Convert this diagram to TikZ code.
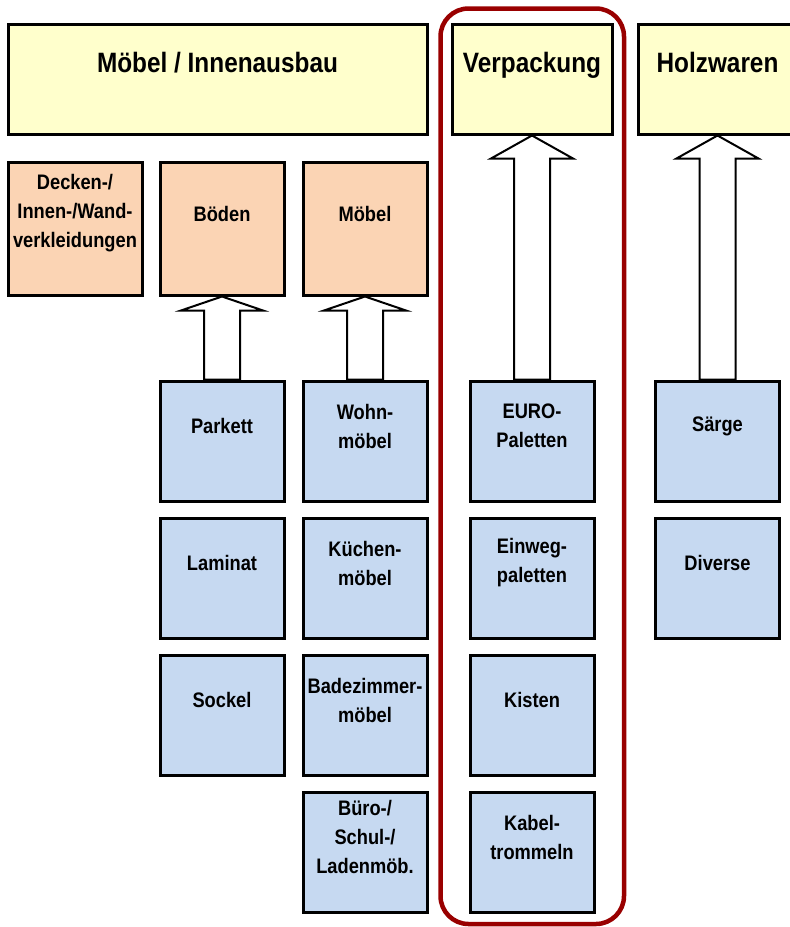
\documentclass[tikz,border=0pt]{standalone}
\usepackage{fontspec}
\setmainfont{Liberation Sans}[FakeStretch=0.87]
\usetikzlibrary{calc}
\definecolor{headyellow}{HTML}{FFFFCC}
\definecolor{catorange}{HTML}{FBD4B4}
\definecolor{itemblue}{HTML}{C6D9F1}
\definecolor{markred}{HTML}{990000}

\begin{document}
\begin{tikzpicture}[x=1pt, y=-1pt,
      head/.style={draw, line width=3pt, fill=headyellow, minimum height=110pt, inner sep=0pt},
      cat/.style={draw, line width=3pt, fill=catorange, minimum width=134pt, minimum height=133pt, inner sep=0pt},
      item/.style={draw, line width=3pt, fill=itemblue, minimum width=124pt, minimum height=120pt, inner sep=0pt},
      txt/.style={font=\bfseries\fontsize{21}{29}\selectfont, align=center, yshift=15pt},
      big/.style={font=\bfseries\fontsize{28}{32}\selectfont, text height=20pt, text depth=0pt, yshift=17pt},
      barrow/.style={draw, line width=2pt, fill=white}]
      \useasboundingbox (0,0) rectangle (790,927);
      % top row
      \node[head, minimum width=419pt, label={[big]center:Möbel / Innenausbau}] (moebel) at (217.5,79) {};
      \node[head, minimum width=160pt, label={[big]center:Verpackung}] (verp) at (532,79) {};
      \node[head, minimum width=159pt, label={[big]center:Holzwaren}] (holz) at (717.5,79) {};
      % categories
      \node[cat, label={[txt]center:Decken-/\\Innen-/Wand-\\verkleidungen}] (decken) at (75,228.5) {};
      \node[cat, minimum width=124pt, label={[txt]center:Böden}] (boeden) at (222,228.5) {};
      \node[cat, minimum width=124pt, label={[txt]center:Möbel}] (moeb) at (365,228.5) {};
      % products
      \node[item, label={[txt]center:Parkett}] (parkett) at (222,441) {};
      \node[item, label={[txt]center:Laminat}] (laminat) at (222,578) {};
      \node[item, label={[txt]center:Sockel}] (sockel) at (222,715) {};
      \node[item, label={[txt]center:Wohn-\\möbel}] (wohn) at (365,441) {};
      \node[item, label={[txt]center:Küchen-\\möbel}] (kueche) at (365,578) {};
      \node[item, label={[txt]center:Badezimmer-\\möbel}] (bad) at (365,715) {};
      \node[item, label={[txt]center:Büro-/\\Schul-/\\Ladenmöb.}] (buero) at (365,852) {};
      \node[item, label={[txt]center:EURO-\\Paletten}] (euro) at (532,441) {};
      \node[item, label={[txt]center:Einweg-\\paletten}] (einweg) at (532,578) {};
      \node[item, label={[txt]center:Kisten}] (kisten) at (532,715) {};
      \node[item, label={[txt]center:Kabel-\\trommeln}] (kabel) at (532,852) {};
      \node[item, label={[txt]center:Särge}] (saerge) at (717.5,441) {};
      \node[item, label={[txt]center:Diverse}] (diverse) at (717.5,578) {};
      % block arrows
      \foreach \from/\to/\len in {parkett/boeden/14, wohn/moeb/14, euro/verp/23, saerge/holz/23}
        \draw[barrow] let \p1=(\from.north), \p2=(\to.south) in
          (\x1-18pt,\y1) -- (\x1-18pt,\y2-\len*1pt) -- (\x1-41pt,\y2-\len*1pt) -- (\x1,\y2)
          -- (\x1+41pt,\y2-\len*1pt) -- (\x1+18pt,\y2-\len*1pt) -- (\x1+18pt,\y1) -- cycle;
      % highlight
      \draw[markred, line width=4.5pt, rounded corners=28pt] (440.5,8.5) rectangle (624,924);
    \end{tikzpicture}
\end{document}
